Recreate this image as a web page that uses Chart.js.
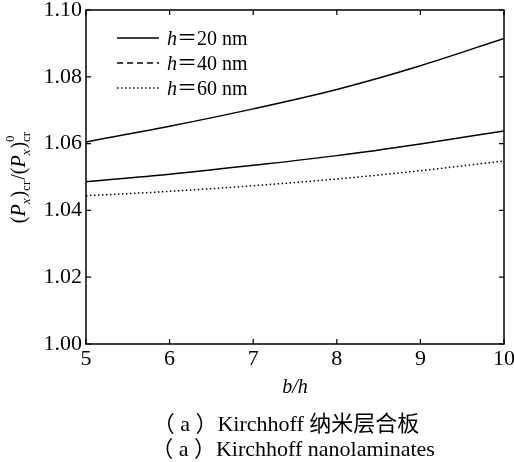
<!DOCTYPE html>
<html>
<head>
<meta charset="utf-8">
<script src="https://cdn.jsdelivr.net/npm/chart.js@4.4.0/dist/chart.umd.min.js"></script>
<style>
	body { margin: 0; background: #fff; }
	#wrap { width: 514px; height: 462px; }
</style>
</head>
<body>
<div id="wrap"><canvas id="bucklingChart" width="514" height="462"></canvas></div>
<script>
"use strict"

// b/h values and the buckling load ratio
const ratios = [5, 6, 7, 8, 9, 10]
const h20 = [1.0605, 1.0652, 1.0704, 1.0762, 1.0833, 1.0915]
const h40 = [1.0486, 1.0508, 1.0535, 1.0564, 1.0599, 1.0638]
const h60 = [1.0444, 1.0457, 1.0474, 1.0494, 1.0519, 1.0548]

const xTicks = [5, 6, 7, 8, 9, 10]
const yTicks = [1.00, 1.02, 1.04, 1.06, 1.08, 1.10]
const legendNames = ["20 nm", "40 nm", "60 nm"]
const captionZh = "（ a ）Kirchhoff 纳米层合板"
const captionEn = "（ a ）Kirchhoff nanolaminates"

const serif = "'Liberation Serif', 'Noto Sans CJK SC', serif"

const toPoints = (ys) => ratios.map((x, i) => ({ x: x, y: ys[i] }))

// frame, inward ticks, legend, axis titles and captions
const decorations = {
	id: "decorations",
	afterDraw(chart) {
		const ctx = chart.ctx
		const area = chart.chartArea
		const xs = chart.scales.x
		const ys = chart.scales.y
		ctx.save()
		ctx.strokeStyle = "#000"
		ctx.lineWidth = 1.5
		ctx.strokeRect(area.left, area.top, area.right - area.left, area.bottom - area.top)

		ctx.lineWidth = 1.2
		ctx.beginPath()
		xTicks.forEach((v) => {
			let px = xs.getPixelForValue(v)
			ctx.moveTo(px, area.bottom)
			ctx.lineTo(px, area.bottom - 5)
			ctx.moveTo(px, area.top)
			ctx.lineTo(px, area.top + 5)
		})
		yTicks.forEach((v) => {
			let py = ys.getPixelForValue(v)
			ctx.moveTo(area.left, py)
			ctx.lineTo(area.left + 5, py)
			ctx.moveTo(area.right, py)
			ctx.lineTo(area.right - 5, py)
		})
		ctx.stroke()

		// legend
		const dashes = [[], [6, 4], [1.5, 2.5]]
		legendNames.forEach((name, i) => {
			let yMid = 38 + i * 25
			ctx.beginPath()
			ctx.setLineDash(dashes[i])
			ctx.lineWidth = 1.5
			ctx.moveTo(117, yMid)
			ctx.lineTo(159, yMid)
			ctx.stroke()
			ctx.setLineDash([])
			ctx.fillStyle = "#000"
			ctx.textBaseline = "alphabetic"
			ctx.textAlign = "left"
			let x = 167
			ctx.font = "italic 20px " + serif
			ctx.fillText("h", x, yMid + 7)
			x += ctx.measureText("h").width
			ctx.font = "20px " + serif
			ctx.fillText("＝" + name, x, yMid + 7)
		})

		// x title
		ctx.font = "italic 20px " + serif
		ctx.textAlign = "center"
		ctx.fillText("b/h", 295, 393)

		// captions
		ctx.font = "22px " + serif
		ctx.fillText(captionZh, 286, 431)
		ctx.fillText(captionEn, 293, 456)

		// y title, rotated, with sub/superscripts
		const parts = [
			["(", "", 0], ["P", "italic ", 0], ["x", "italic ", 1], [")", "", 0], ["cr", "", 1],
			["/", "", 0], ["(", "", 0], ["P", "italic ", 0], ["x", "italic ", 1], [")", "", 0], ["0", "", 2], ["cr", "", 1],
		]
		const fontFor = (p) => p[1] + (p[2] ? "13px " : "20px ") + serif
		let total = 0
		parts.forEach((p) => {
			ctx.font = fontFor(p)
			let w = ctx.measureText(p[0]).width + (p[2] === 1 ? 1 : 0)
			if (p[2] === 2) w = 0
			total += w
		})
		ctx.translate(25, 177 + total / 2)
		ctx.rotate(-Math.PI / 2)
		ctx.textAlign = "left"
		let pos = 0
		parts.forEach((p) => {
			ctx.font = fontFor(p)
			let w = ctx.measureText(p[0]).width + (p[2] === 1 ? 1 : 0)
			let dy = p[2] === 1 ? 5 : p[2] === 2 ? -11 : 0
			ctx.fillText(p[0], pos, dy)
			if (p[2] !== 2) pos += w
		})
		ctx.restore()
	},
}

let ctx = document.getElementById("bucklingChart").getContext("2d")

let chart = new Chart(ctx, {
	type: "line",
	data: {
		datasets: [
			{
				label: "h=20 nm",
				data: toPoints(h20),
				borderColor: "#000",
				borderWidth: 1.5,
			},
			{
				label: "h=40 nm",
				data: toPoints(h40),
				borderColor: "#000",
				borderWidth: 1.5,
			},
			{
				label: "h=60 nm",
				data: toPoints(h60),
				borderColor: "#000",
				borderWidth: 1.5,
				borderDash: [1.5, 2.5],
			},
		],
	},
	options: {
		responsive: false,
		devicePixelRatio: 1,
		animation: false,
		layout: { padding: { top: 10, right: 10, left: 0, bottom: 0 } },
		elements: {
			point: { radius: 0 },
			line: { cubicInterpolationMode: "monotone", fill: false },
		},
		plugins: {
			legend: { display: false },
			tooltip: { enabled: false },
		},
		scales: {
			x: {
				type: "linear",
				min: 5,
				max: 10,
				grid: { display: false, drawTicks: false },
				border: { display: false },
				afterBuildTicks: (s) => { s.ticks = xTicks.map((v) => ({ value: v })) },
				afterFit: (s) => {
					s.height = 118
					s.paddingLeft = 0
					s.paddingRight = 0
				},
				ticks: {
					padding: 2,
					maxRotation: 0,
					color: "#000",
					font: { family: serif, size: 22 },
				},
			},
			y: {
				type: "linear",
				min: 1.0,
				max: 1.1,
				grid: { display: false, drawTicks: false },
				border: { display: false },
				afterBuildTicks: (s) => { s.ticks = yTicks.map((v) => ({ value: v })) },
				afterFit: (s) => {
					s.width = 86
					s.paddingTop = 0
					s.paddingBottom = 0
				},
				ticks: {
					padding: 4,
					color: "#000",
					font: { family: serif, size: 22 },
					callback: (v) => v.toFixed(2),
				},
			},
		},
	},
	plugins: [decorations],
})
</script>
</body>
</html>
